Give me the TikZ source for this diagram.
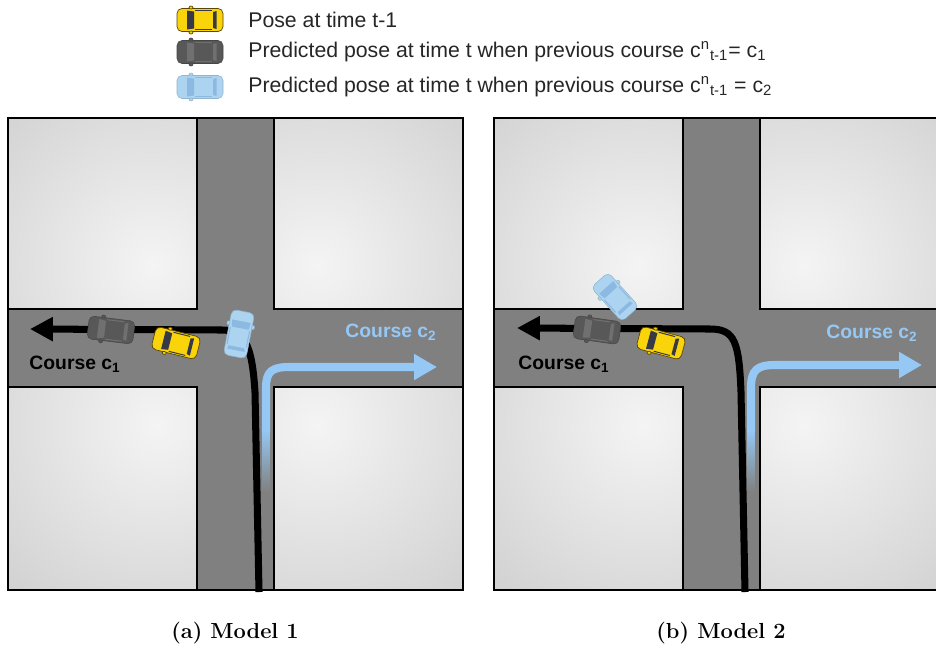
\documentclass[tikz,border=0pt]{standalone}
\usepackage{fontspec}
\newfontfamily\sans{Liberation Sans}
\usetikzlibrary{arrows.meta}

\definecolor{roadgray}{RGB}{128,128,128}
\definecolor{blockhi}{RGB}{244,244,244}
\definecolor{blocklo}{RGB}{182,182,182}
\definecolor{courseblue}{RGB}{150,200,245}
\definecolor{caryellow}{RGB}{250,212,10}
\definecolor{carline}{RGB}{90,70,0}
\definecolor{carglassdark}{RGB}{55,58,70}
\definecolor{cardark}{RGB}{88,88,88}
\definecolor{cardarkglass}{RGB}{112,112,112}
\definecolor{carblue}{RGB}{172,212,240}
\definecolor{carblueglass}{RGB}{140,185,225}

% top view of a car, bonnet pointing to -x
\tikzset{
  pics/car/.style={code={
    \path[carbody, rounded corners=2.8pt] (-23,-11.5) rectangle (23,11.5);
    \path[carglass] (-13,-9.5) -- (-6,-8.5) -- (-6,8.5) -- (-13,9.5) -- cycle;
    \path[carglass] (13,-8) -- (16.5,-9) -- (16.5,9) -- (13,8) -- cycle;
    \path[carglass] (-5,-10.3) -- (12,-10.3) -- (12,-9.3) -- (-5,-9.3) -- cycle;
    \path[carglass] (-5,10.3) -- (12,10.3) -- (12,9.3) -- (-5,9.3) -- cycle;
    \path[carbody] (-9,-12.5) ellipse (2 and 1.5);
    \path[carbody] (-9,12.5) ellipse (2 and 1.5);
  }}
}

\begin{document}
\begin{tikzpicture}[x=0.02cm, y=-0.02cm,
  block/.style={draw=black, line width=1.1pt},
  course1/.style={line width=4pt, black, -{Triangle[length=13pt,width=13pt]}},
  course2/.style={line width=4.6pt, courseblue, -{Triangle[length=13pt,width=14pt]}},
  label1/.style={font=\sans\bfseries\fontsize{11}{13}\selectfont, text=black},
  label2/.style={font=\sans\bfseries\fontsize{11}{13}\selectfont, text=courseblue},
  legendtext/.style={font=\sans\fontsize{12.1}{14}\selectfont, anchor=west, inner sep=0pt, text=black!85},
  caption/.style={font=\bfseries\fontsize{12.4}{15}\selectfont},
  yellowcar/.style={carbody/.style={fill=caryellow, draw=carline, line width=0.4pt},
    carglass/.style={fill=carglassdark}},
  darkcar/.style={carbody/.style={fill=cardark, draw=cardark!80!black, line width=0.3pt},
    carglass/.style={fill=cardarkglass}},
  bluecar/.style={carbody/.style={fill=carblue, draw=carblue!85!black, line width=0.3pt},
    carglass/.style={fill=carblueglass}}]
\useasboundingbox (0,0) rectangle (936,647);
\clip (0,0) rectangle (936,647);

% legend
\pic[yellowcar] at (200,20) {car};
\pic[darkcar] at (200,52) {car};
\pic[bluecar] at (200,87) {car};
\node[legendtext] (leg1) at (248,20) {Pose at time t-1};
\node[legendtext] (leg2) at (248,52) {Predicted pose at time t when previous course c\textsuperscript{n}\textsubscript{t-1}= c\textsubscript{1}};
\node[legendtext] (leg3) at (248,87) {Predicted pose at time t when previous course c\textsuperscript{n}\textsubscript{t-1} = c\textsubscript{2}};

% the two crossings, road first, then the four blocks
\foreach \ox in {8,494} {
  \begin{scope}[shift={(\ox,0)}]
    \fill[roadgray] (0,118) rectangle (455,590);
    \foreach \bx/\by/\ex/\ey/\cx/\cy in {0/118/189/309/145/265, 266/118/455/309/310/265,
                                         0/387/189/590/150/425, 266/387/455/590/310/425} {
      \begin{scope}
        \clip (\bx,\by) rectangle (\ex,\ey);
        \shade[inner color=blockhi, outer color=blocklo] (\cx,\cy) circle (400);
      \end{scope}
      \draw[block] (\bx,\by) rectangle (\ex,\ey);
    }
    \draw[block] (0,118) rectangle (455,590);
  \end{scope}
}

% (a) courses
\shade[top color=courseblue, bottom color=roadgray] (262.5,430) rectangle (269.5,492);
\draw[course2] (266,432) -- (266,388) .. controls (266,371) and (272,367) .. (290,367) -- (437,367);
\draw[course1] (259,592) -- (255,392) .. controls (252,345) and (245,330) .. (222,330) -- (30,329);
\node[label1] (c1a) at (75,364) {Course c\textsubscript{1}};
\node[label2] (c2a) at (391,332) {Course c\textsubscript{2}};
\pic[darkcar, rotate=-7] at (111,330) {car};
\pic[yellowcar, rotate=-14] at (176,343) {car};
\pic[bluecar, rotate=-101] at (239,334) {car};

% (b) courses
\shade[top color=courseblue, bottom color=roadgray] (747.5,430) rectangle (754.5,492);
\draw[course2] (751,432) -- (751,388) .. controls (751,370) and (757,365) .. (775,365) -- (922,365);
\draw[course1] (745,592) -- (741,392) .. controls (739,342) and (735,329) .. (710,329) -- (517,328);
\node[label1] (c1b) at (564,364) {Course c\textsubscript{1}};
\node[label2] (c2b) at (872,333) {Course c\textsubscript{2}};
\pic[darkcar, rotate=-8] at (597,330) {car};
\pic[yellowcar, rotate=-15] at (661,343) {car};
\pic[bluecar, rotate=-48] at (615,297) {car};

% captions
\node[caption] (capa) at (235,633) {(a) Model 1};
\node[caption] (capb) at (721,633) {(b) Model 2};
\end{tikzpicture}
\end{document}
